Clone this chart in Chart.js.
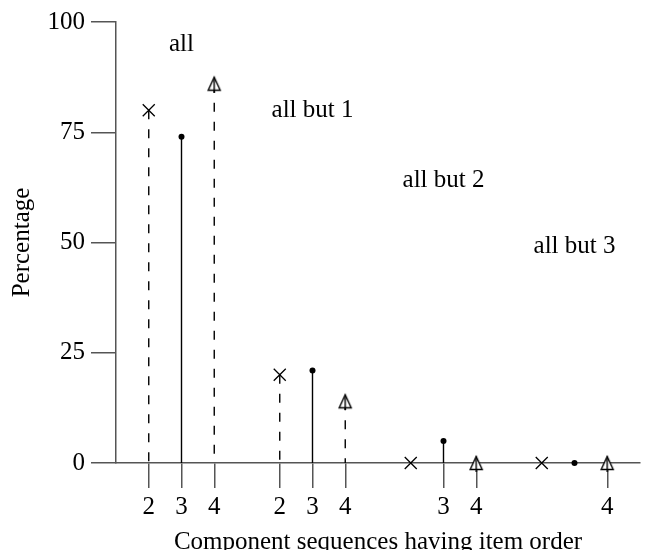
<!DOCTYPE html>
<html>
<head>
<meta charset="utf-8">
<script src="https://cdn.jsdelivr.net/npm/chart.js@4/dist/chart.umd.min.js"></script>
<style>
  html, body { margin: 0; padding: 0; background: #fff; overflow: hidden; }
  canvas { display: block; }
</style>
</head>
<body>
<canvas id="chart" width="645" height="550"></canvas>
<script>
// Groups of component sequences and the share (%) for each item order
const groups = ['all', 'all but 1', 'all but 2', 'all but 3'];
const pctOrder2 = [80, 20, 0, 0];
const pctOrder3 = [74, 21, 5, 0];
const pctOrder4 = [86, 14, 0, 0];
// item orders that get a labelled tick in each group
const labelledOrders = [[2, 3, 4], [2, 3, 4], [3, 4], [4]];
const yTickValues = [0, 25, 50, 75, 100];

// where each group caption sits, in percentage units
const captionLevels = [95, 80, 64, 49];

const FONT = "'Liberation Serif', 'Times New Roman', serif";
const AXIS_GREY = '#555';
const INK = '#000';

Chart.defaults.font.family = FONT;
Chart.defaults.color = '#000';

// each group takes four slots on the x axis: orders 2, 3, 4 and a spacer
const slotOf = (g, order) => g * 4 + (order - 1);
const seriesByOrder = { 2: pctOrder2, 3: pctOrder3, 4: pctOrder4 };
const pointsFor = order => groups.map((_, g) => ({ x: slotOf(g, order), y: seriesByOrder[order][g] }));

const tickSlots = [];
const tickText = {};
labelledOrders.forEach((orders, g) => orders.forEach(o => {
  const s = slotOf(g, o);
  tickSlots.push(s);
  tickText[s] = String(o);
}));

// open triangle with a centre line up to the apex
function triangleMark() {
  const c = document.createElement('canvas');
  c.width = 16; c.height = 18;
  const g = c.getContext('2d');
  g.strokeStyle = INK;
  g.lineWidth = 1.4;
  g.fillStyle = '#fff';
  g.beginPath();
  g.moveTo(8, 2.5);
  g.lineTo(14, 15.5);
  g.lineTo(2, 15.5);
  g.closePath();
  g.fill();
  g.stroke();
  g.beginPath();
  g.moveTo(8, 2.5);
  g.lineTo(8, 18);
  g.stroke();
  return c;
}

// vertical impulse from zero up to each point
const stemsPlugin = {
  id: 'stems',
  beforeDatasetsDraw(chart) {
    const { ctx } = chart;
    const base = chart.scales.y.getPixelForValue(0);
    chart.data.datasets.forEach((ds, i) => {
      const meta = chart.getDatasetMeta(i);
      ctx.save();
      ctx.strokeStyle = INK;
      ctx.lineWidth = 1.4;
      ctx.setLineDash(ds.stemDash || []);
      meta.data.forEach(pt => {
        if (Math.abs(base - pt.y) < 1) return;
        ctx.beginPath();
        ctx.moveTo(pt.x, pt.y);
        ctx.lineTo(pt.x, base);
        ctx.stroke();
      });
      ctx.restore();
    });
  }
};

// group captions above each cluster
const captionsPlugin = {
  id: 'captions',
  afterDatasetsDraw(chart) {
    const { ctx } = chart;
    const { x, y } = chart.scales;
    ctx.save();
    ctx.font = '25px ' + FONT;
    ctx.fillStyle = '#000';
    ctx.textAlign = 'center';
    ctx.textBaseline = 'middle';
    groups.forEach((name, g) => {
      ctx.fillText(name, x.getPixelForValue(slotOf(g, 3)), y.getPixelForValue(captionLevels[g]));
    });
    ctx.restore();
  }
};

new Chart(document.getElementById('chart'), {
  type: 'scatter',
  data: {
    datasets: [
      {
        label: 'order 2',
        data: pointsFor(2),
        pointStyle: 'crossRot',
        pointRadius: 8.5,
        pointHoverRadius: 8.5,
        borderColor: INK,
        backgroundColor: INK,
        pointBorderWidth: 1.3,
        stemDash: [9, 10],
        clip: false
      },
      {
        label: 'order 3',
        data: pointsFor(3),
        pointStyle: 'circle',
        pointRadius: 3,
        pointHoverRadius: 3,
        borderColor: '#000',
        backgroundColor: '#000',
        pointBorderWidth: 0,
        stemDash: [],
        clip: false
      },
      {
        label: 'order 4',
        data: pointsFor(4),
        pointStyle: triangleMark(),
        pointRadius: 8,
        borderColor: INK,
        stemDash: [9, 10],
        clip: false
      }
    ]
  },
  options: {
    responsive: false,
    animation: false,
    events: [],
    layout: { autoPadding: false, padding: { top: 22, right: 5, left: 0, bottom: 0 } },
    plugins: {
      legend: { display: false },
      tooltip: { enabled: false }
    },
    scales: {
      x: {
        type: 'linear',
        min: 0,
        max: 16,
        afterBuildTicks: scale => { scale.ticks = tickSlots.map(v => ({ value: v })); },
        afterFit: scale => {
          scale.height = 87;
          scale.paddingLeft = 0;
          scale.paddingRight = 0;
        },
        grid: { drawOnChartArea: false, drawTicks: true, tickLength: 25, color: AXIS_GREY, lineWidth: 1.5 },
        border: { color: AXIS_GREY, width: 1.5 },
        ticks: {
          autoSkip: false,
          maxRotation: 0,
          padding: 4,
          color: '#000',
          font: { size: 25 },
          callback: v => tickText[v] || ''
        },
        title: {
          display: true,
          text: 'Component sequences having item order',
          color: '#000',
          font: { size: 25, lineHeight: 0.8 },
          padding: { top: 0, bottom: -2 }
        }
      },
      y: {
        type: 'linear',
        min: 0,
        max: 100,
        afterBuildTicks: scale => { scale.ticks = yTickValues.map(v => ({ value: v })); },
        afterFit: scale => { scale.width = 116; },
        grid: { drawOnChartArea: false, drawTicks: true, tickLength: 25, color: AXIS_GREY, lineWidth: 1.5 },
        border: { color: AXIS_GREY, width: 1.5 },
        ticks: { padding: 6, color: '#000', font: { size: 25 } },
        title: {
          display: true,
          text: 'Percentage',
          color: '#000',
          font: { size: 25, lineHeight: 1.2 },
          padding: { top: 7.5, bottom: 0 }
        }
      }
    }
  },
  plugins: [stemsPlugin, captionsPlugin]
});
</script>
</body>
</html>
